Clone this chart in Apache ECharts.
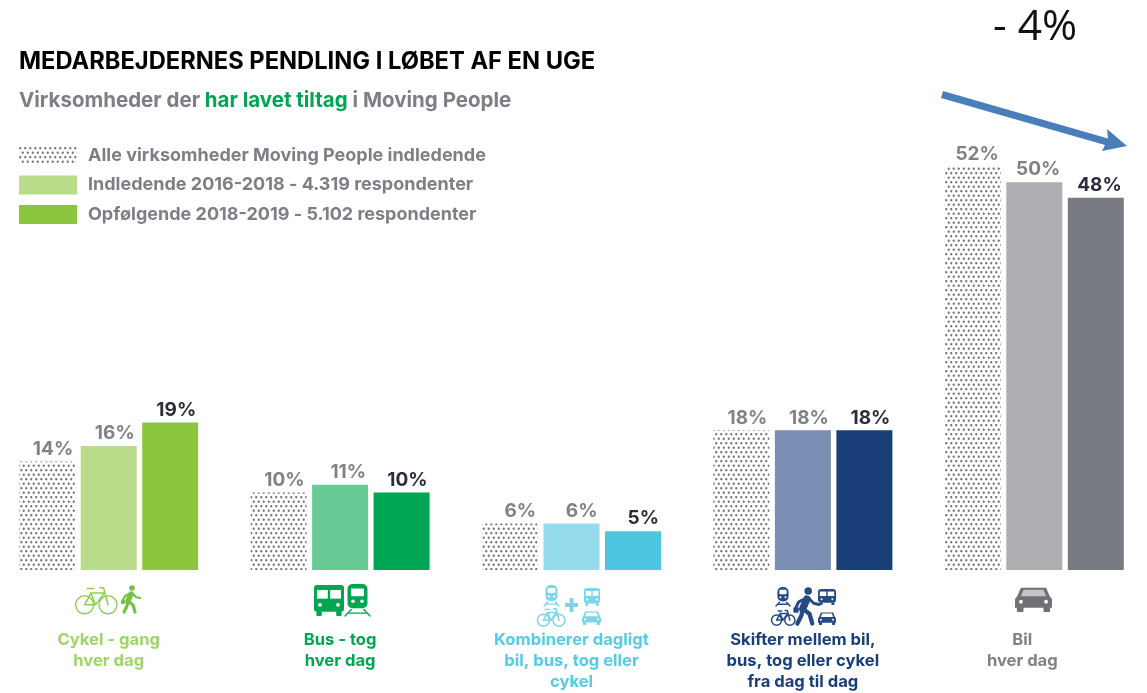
<!DOCTYPE html>
<html><head><meta charset="utf-8">
<style>html,body{margin:0;padding:0;background:#fff}#c{width:1147px;height:693px}</style>
<script src="https://cdn.jsdelivr.net/npm/echarts@6/dist/echarts.min.js"></script>
</head><body><div id="c"></div>
<script>
const categories = ['Cykel - gang\nhver dag','Bus - tog\nhver dag','Kombinerer dagligt\nbil, bus, tog eller\ncykel','Skifter mellem bil,\nbus, tog eller cykel\nfra dag til dag','Bil\nhver dag'];
const seriesNames = ['Alle virksomheder Moving People indledende','Indledende 2016-2018 - 4.319 respondenter','Opfølgende 2018-2019 - 5.102 respondenter'];
const allValues = [14,10,6,18,52];
const initialValues = [16,11,6,18,50];
const followValues = [19,10,5,18,48];
const initialColors = ['#b9dc8b','#68cb96','#94dcec','#7a8db3','#aeadb2'];
const followColors = ['#8cc63f','#00a651','#4dc6e1','#1a3e78','#777a83'];
const labelColors = ['#a0d468','#00a651','#55cbe6','#1a3e78','#808288'];
const FONT = 'Inter, "Open Sans", sans-serif';

function dots(){
  const c=document.createElement('canvas');c.width=5;c.height=9;
  const g=c.getContext('2d');g.fillStyle='#fff';g.fillRect(0,0,5,9);
  g.fillStyle='#6f7178';
  [[1.25,2.25],[3.75,6.75]].forEach(p=>{g.beginPath();g.arc(p[0],p[1],1.15,0,7);g.fill();});
  return {image:c,repeat:'repeat'};
}
const pattern=dots();
const lab=(color)=>({show:true,position:'top',distance:3,align:'right',offset:[26,0],formatter:'{c}%',fontFamily:FONT,fontWeight:700,fontSize:19,color});

/* small pictograms under the bars */
function box(x,y,w,h,fill,r){return {type:'rect',silent:true,shape:{x,y,width:w,height:h,r:r||0},style:{fill}};}
function ring(cx,cy,r,stroke,lw){return {type:'circle',silent:true,shape:{cx,cy,r},style:{fill:'none',stroke,lineWidth:lw||1.5}};}
function poly(pts,stroke,lw){return {type:'polyline',silent:true,shape:{points:pts},style:{fill:'none',stroke,lineWidth:lw||1.5,lineCap:'round',lineJoin:'round'}};}
function dot(cx,cy,r,fill){return {type:'circle',silent:true,shape:{cx,cy,r},style:{fill}};}
function bike(x,y,s,col){const w=1.5;return [ring(x+9*s,y+12*s,10*s,col,w),ring(x+35*s,y+12*s,10*s,col,w),
  poly([[x+9*s,y+12*s],[x+16*s,y-1*s],[x+31*s,y-1*s],[x+21*s,y+12*s],[x+9*s,y+12*s]],col,w),
  poly([[x+16*s,y-1*s],[x+21*s,y+12*s]],col,w),poly([[x+35*s,y+12*s],[x+30*s,y-7*s],[x+26*s,y-7*s]],col,w),poly([[x+12*s,y-6*s],[x+19*s,y-6*s]],col,w)];}
function walker(x,y,s,col){const p=(a,b)=>[x+a*s,y+b*s];return [dot(x+12*s,y+3*s,2.8*s,col),
  poly([p(11,9),p(8,16)],col,5.5*s),poly([p(8,16),p(7,21),p(4,27)],col,3.2*s),poly([p(8,16),p(13,20),p(15,27)],col,3.2*s),
  poly([p(11,8),p(5,11),p(3,15)],col,2.2*s),poly([p(12,8),p(16,12),p(20,13)],col,2.2*s),box(x+1*s,y+15*s,4*s,4*s,col,1)];}
function bus(x,y,w,h,col){return [box(x,y,w,h*.86,col,3),box(x+w*.1,y+h*.16,w*.36,h*.28,'#fff'),box(x+w*.54,y+h*.16,w*.36,h*.28,'#fff'),
  dot(x+w*.2,y+h*.64,h*.06,'#fff'),dot(x+w*.8,y+h*.64,h*.06,'#fff'),box(x+w*.08,y+h*.84,w*.18,h*.16,col,1),box(x+w*.74,y+h*.84,w*.18,h*.16,col,1)];}
function train(x,y,w,h,col){return [box(x+w*.1,y,w*.8,h*.76,col,5),box(x+w*.24,y+h*.14,w*.52,h*.24,'#fff',1),
  dot(x+w*.32,y+h*.54,h*.055,'#fff'),dot(x+w*.68,y+h*.54,h*.055,'#fff'),
  poly([[x+w*.25,y+h*.8],[x,y+h]],col,1.4),poly([[x+w*.75,y+h*.8],[x+w,y+h]],col,1.4),poly([[x+w*.16,y+h*.91],[x+w*.84,y+h*.91]],col,1.4)];}
function car(x,y,w,h,col,glass){return [{type:'polygon',silent:true,shape:{points:[[x+w*.16,y+h*.1],[x+w*.84,y+h*.1],[x+w*.94,y+h*.42],[x+w,y+h*.52],[x+w,y+h*.84],[x,y+h*.84],[x,y+h*.52],[x+w*.06,y+h*.42]]},style:{fill:col}},
  {type:'polygon',silent:true,shape:{points:[[x+w*.23,y+h*.18],[x+w*.77,y+h*.18],[x+w*.84,y+h*.42],[x+w*.16,y+h*.42]]},style:{fill:glass}},
  dot(x+w*.16,y+h*.62,h*.07,'#fff'),dot(x+w*.84,y+h*.62,h*.07,'#fff'),
  box(x+w*.05,y+h*.8,w*.18,h*.2,col,1),box(x+w*.77,y+h*.8,w*.18,h*.2,col,1)];}
const G1='#8fd14f',G1b='#76c043',G2='#00a651',C='#7fd3ea',N='#274a85',K='#6f7175';
const icons=[].concat(
  bike(76.5,594,.9,G1), walker(120,585,1,G1b),
  bus(314,585,30,31,G2), train(345,584,25,32,G2),
  train(544,585,15,21,C), bus(584,588,16,18,C),
  [box(565,603,13,4,C),box(569.5,598,4,14,C)],
  bike(538,613,.6,C), car(582,610,19,15,C,'#fff'),
  train(776,587,14,19,N), bus(818,589,18,16,N),
  bike(772,614,.51,N), car(818,611,18,14,N,'#fff'),
  walker(792,587,1.35,N),
  car(1015,585,37,27,K,'#c4c5c7')
);

const option={
  animation:false,
  backgroundColor:'#fff',
  grid:{left:-7,width:1157,top:27,height:543,containLabel:false,outerBoundsMode:'none'},
  legend:{show:true,orient:'vertical',left:19,top:146,padding:0,itemWidth:58,itemHeight:19,itemGap:10.5,itemStyle:{borderWidth:0},icon:'rect',selectedMode:false,
    data:seriesNames,textStyle:{fontFamily:FONT,fontWeight:700,fontSize:18,color:'#7d7f86',padding:[0,0,0,6]}},
  title:{left:19,top:50,padding:0,text:'MEDARBEJDERNES PENDLING I LØBET AF EN UGE',textStyle:{fontFamily:FONT,fontWeight:700,fontSize:23.7,color:'#000'},
    subtext:'{g|Virksomheder der }{h|har lavet tiltag}{g| i Moving People}',itemGap:16,
    subtextStyle:{rich:{g:{fontFamily:FONT,fontWeight:700,fontSize:20.5,color:'#7d7f86'},h:{fontFamily:FONT,fontWeight:700,fontSize:20.5,color:'#00a651'}}}},
  xAxis:{type:'category',data:categories.map((c,i)=>i===4?{value:c,textStyle:{padding:[0,24,0,0]}}:c),axisLine:{show:false},axisTick:{show:false},
    axisLabel:{margin:59,lineHeight:21,fontFamily:FONT,fontWeight:700,fontSize:16.6,interval:0,
      color:(v,i)=>labelColors[i]}},
  yAxis:{type:'value',min:0,max:70,interval:10,show:false,splitLine:{show:false}},
  series:[
    {name:seriesNames[0],type:'bar',barWidth:56,barGap:'9.8%',data:allValues,itemStyle:{color:pattern},label:lab('#808288')},
    {name:seriesNames[1],type:'bar',barWidth:56,data:initialValues.map((v,i)=>({value:v,itemStyle:{color:initialColors[i]}})),itemStyle:{color:initialColors[0]},label:lab('#808288')},
    {name:seriesNames[2],type:'bar',barWidth:56,data:followValues.map((v,i)=>({value:v,itemStyle:{color:followColors[i]}})),itemStyle:{color:followColors[0]},label:lab('#2b2d3a')}
  ],
  graphic:{elements:[
    {type:'text',silent:true,left:993,top:6,style:{text:'- 4%',fontFamily:'"Open Sans", sans-serif',fontSize:42.5,fill:'#111'}},
    {type:'polygon',silent:true,shape:{points:[[943,91],[1108,138.5],[1107,129],[1127,146],[1102,151],[1105,145],[941,98]]},style:{fill:'#4a7ebb'}},
    ...icons
  ]}
};
const chart=echarts.init(document.getElementById('c'),null,{renderer:'canvas'});
chart.setOption(option);
</script></body></html>
